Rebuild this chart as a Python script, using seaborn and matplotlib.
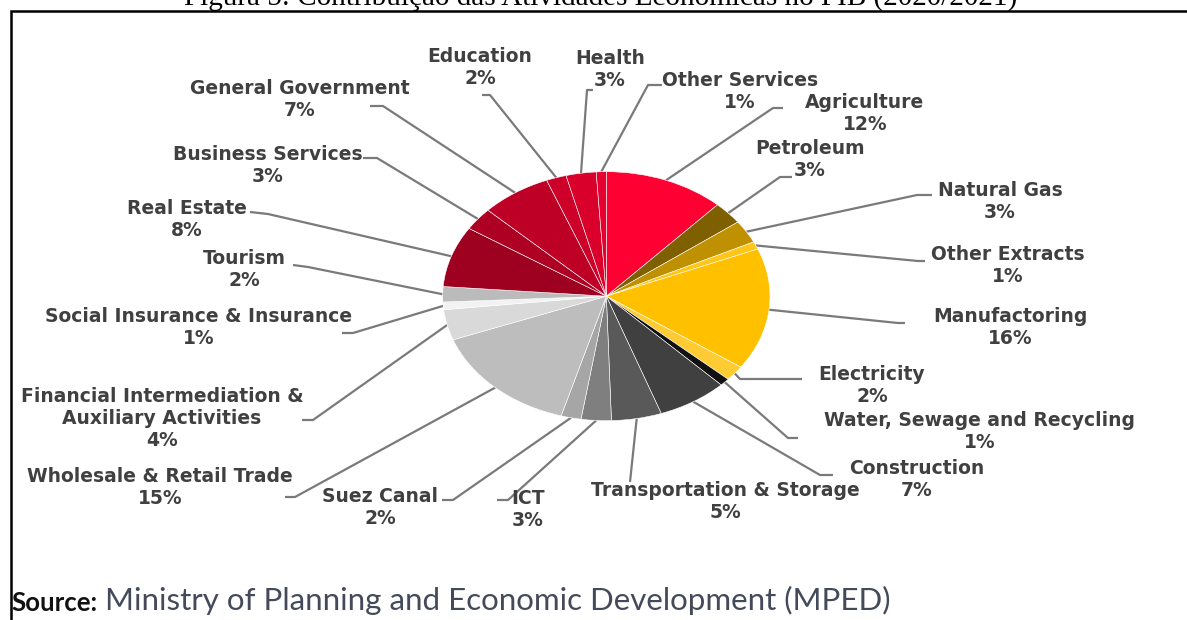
import numpy as np
import seaborn as sns
import matplotlib
matplotlib.use('Agg')
import matplotlib.pyplot as plt

# data (share of GDP, %)
sectors = ['Agriculture', 'Petroleum', 'Natural Gas', 'Other Extracts', 'Manufactoring',
           'Electricity', 'Water, Sewage and Recycling', 'Construction',
           'Transportation & Storage', 'ICT', 'Suez Canal', 'Wholesale & Retail Trade',
           'Financial Intermediation &\nAuxiliary Activities', 'Social Insurance & Insurance',
           'Tourism', 'Real Estate', 'Business Services', 'General Government',
           'Education', 'Health', 'Other Services']
shares = [12, 3, 3, 1, 16, 2, 1, 7, 5, 3, 2, 15, 4, 1, 2, 8, 3, 7, 2, 3, 1]

colors = ['#FF0033', '#7F6000', '#BF9000', '#FFC61A', '#FFC000', '#FFCB33', '#111111',
          '#404040', '#595959', '#7F7F7F', '#A6A6A6', '#BDBDBD', '#D9D9D9', '#F2F2F2',
          '#BBBBBB', '#9E0020', '#AE0022', '#BE0026', '#CC0029', '#D9002C', '#E6002F']

# label layout in pixels: text centre, stub end, elbow
label_xy = [(865, 114), (810, 160), (1000, 202), (1008, 265), (1010, 328), (872, 385),
            (980, 431), (917, 480), (725, 502), (528, 509), (380, 507), (160, 488),
            (162, 418), (199, 328), (244, 270), (187, 219), (268, 166), (300, 100),
            (480, 68), (610, 70), (740, 91)]
stubs = [(783, 108), (792, 177), (932, 195), (925, 261), (905, 323), (802, 379),
         (798, 438), (833, 475), (630, 482), (497, 500), (442, 500), (285, 497),
         (302, 420), (342, 333), (293, 265), (250, 212), (363, 158), (370, 106),
         (482, 95), (593, 90), (662, 85)]
elbows = [(773, 108), (780, 177), (917, 195), (918, 261), (898, 323), (740, 379),
          (788, 438), (820, 475), (630, 482), (508, 500), (453, 500), (295, 497),
          (313, 420), (353, 333), (308, 267), (268, 214), (377, 158), (383, 106),
          (490, 95), (587, 90), (648, 85)]

sns.set_theme(style='white')
plt.rcParams['font.family'] = ['DejaVu Sans']

W, H = 1187, 620
fig = plt.figure(figsize=(W / 100, H / 100), dpi=100)
fig.patch.set_facecolor('white')

# overlay axes in pixel units
ax0 = fig.add_axes([0, 0, 1, 1])
ax0.set_xlim(0, W)
ax0.set_ylim(H, 0)
ax0.axis('off')

# pie axes sized to the elliptical pie
px0, px1, py0, py1 = 442.7, 770.0, 171.7, 420.7
ax = fig.add_axes([px0 / W, 1 - py1 / H, (px1 - px0) / W, (py1 - py0) / H])
wedges, _ = ax.pie(shares, colors=colors, startangle=90, counterclock=False,
                   wedgeprops=dict(edgecolor='white', linewidth=0.4))
ax.set_aspect('auto')
ax.set_xlim(-1, 1)
ax.set_ylim(-1, 1)
ax.axis('off')

txt_color = '#404040'
line_color = '#7A7A7A'
to_px = ax.transData + ax0.transData.inverted()
for w, name, v, (tx, ty), st, el in zip(wedges, sectors, shares, label_xy, stubs, elbows):
    mid = np.deg2rad((w.theta1 + w.theta2) / 2)
    ex, ey = to_px.transform((np.cos(mid), np.sin(mid)))
    ax0.plot([ex, el[0], st[0]], [ey, el[1], st[1]], color=line_color, lw=1.6,
             solid_capstyle='butt', zorder=1)
    ax0.text(tx, ty, f'{name}\n{v}%', ha='center', va='center', fontsize=13.5,
             fontweight='bold', color=txt_color, linespacing=1.2)

# frame
ax0.plot([11, 11, W], [H, 11, 11], color='black', lw=1.8, solid_joinstyle='miter')

# title, cut at the top edge
ax0.text(601, 5, 'Figura 5: Contribuição das Atividades Econômicas no PIB (2020/2021)',
         ha='center', va='baseline', fontsize=21, family='Liberation Serif', color='black')

# source line
t1 = ax0.text(11, 611, 'Source:', ha='left', va='baseline', fontsize=18.5,
              family='Lato', fontweight='bold', color='#111111')
ax0.annotate(' Ministry of Planning and Economic Development (MPED)', xy=(1, 0),
             xycoords=t1, ha='left', va='bottom', fontsize=22.5, family='Lato',
             fontweight='normal', color='#454a5a')

fig.savefig('out.png', dpi=100)
